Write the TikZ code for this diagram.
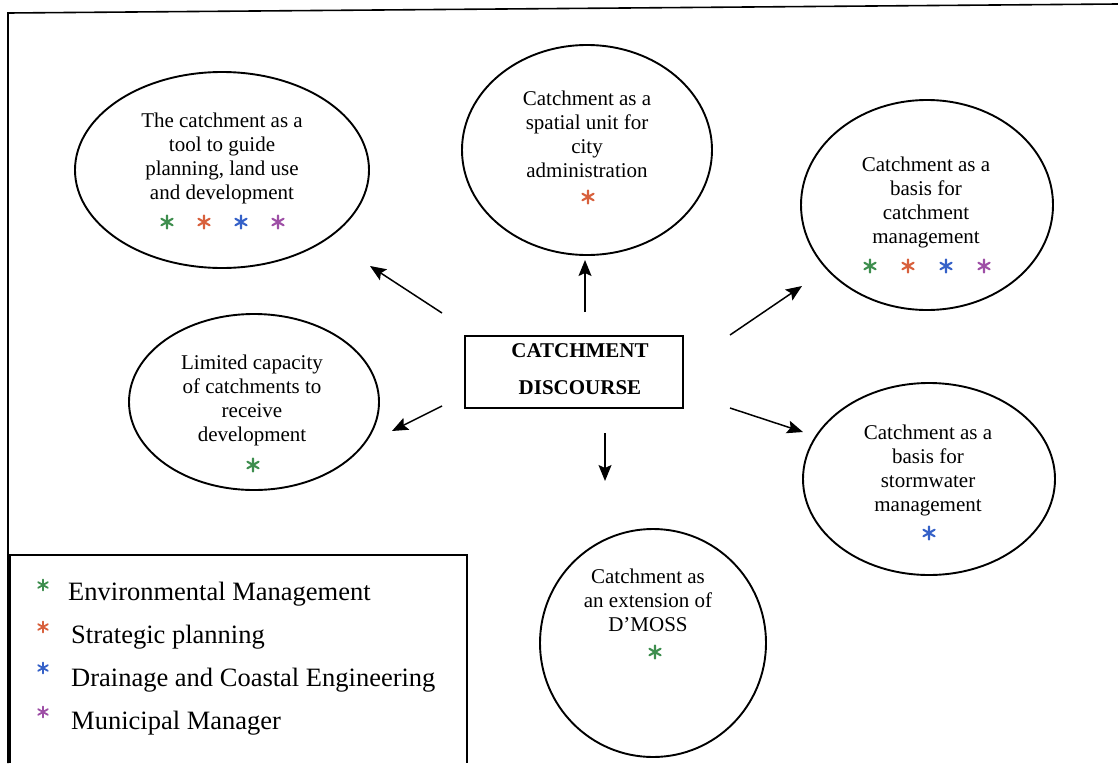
\documentclass[tikz,border=0pt]{standalone}
\usepackage{fontspec}
\setmainfont{Liberation Serif}
\usetikzlibrary{arrows.meta,shapes.geometric}

\definecolor{envgreen}{HTML}{3E8E4E}
\definecolor{stratred}{HTML}{D8603C}
\definecolor{drainblue}{HTML}{3561C8}
\definecolor{munipurple}{HTML}{9E4FA6}

\tikzset{
  bubble/.style={draw, ellipse, line width=1.9pt, inner sep=0pt, outer sep=0pt},
  bubbletext/.style={align=center, inner sep=0pt, font=\fontsize{21}{24}\selectfont},
  hub/.style={draw, line width=1.4pt, inner sep=0pt, minimum width=218pt, minimum height=72pt},
  arr/.style={line width=1.5pt, -{Stealth[length=16pt,width=13pt,inset=3pt]}},
  legendtext/.style={anchor=west, inner sep=0pt, font=\fontsize{26.5}{30}\selectfont},
  ast/.pic={\draw[line width=2.1pt, line cap=round]
    (0,-6.5) -- (0,6.5) (-5.6,-3.3) -- (5.6,3.3) (-5.6,3.3) -- (5.6,-3.3);},
  smallast/.pic={\draw[line width=1.8pt, line cap=round]
    (0,-5.5) -- (0,5.5) (-4.8,-2.8) -- (4.8,2.8) (-4.8,2.8) -- (4.8,-2.8);}
}

\begin{document}
\begin{tikzpicture}[x=1pt,y=-1pt]
\useasboundingbox (0,0) rectangle (1118,763);
\fill[white] (0,0) rectangle (1118,763);

% outer frame
\draw[line width=1.6pt] (8,763) -- (8,13) -- (1118,4);

% legend box
\draw[line width=1.4pt] (10,763) -- (10,555) -- (467,555) -- (467,763);

% central box
\node[hub] (hub) at (574,372) {};
\node[inner sep=0pt, align=center, font=\fontsize{21}{37}\selectfont\bfseries] (hubtext) at (580,369) {CATCHMENT\\DISCOURSE};

% ellipses
\node[bubble, minimum width=294pt, minimum height=196pt] (e1) at (222,170) {};
\node[bubble, minimum width=250pt, minimum height=210pt] (e2) at (587,150) {};
\node[bubble, minimum width=252pt, minimum height=210pt] (e3) at (927,205) {};
\node[bubble, minimum width=250pt, minimum height=176pt] (e4) at (254,402) {};
\node[bubble, minimum width=252pt, minimum height=192pt] (e5) at (929,479) {};
\node[bubble, minimum width=226pt, minimum height=228pt] (e6) at (653,643) {};

% ellipse texts
\node[bubbletext] (t1) at (222,158) {The catchment as a\\tool to guide\\planning, land use\\and development};
\node[bubbletext] (t2) at (587,134) {Catchment as a\\spatial unit for\\city\\administration};
\node[bubbletext] (t3) at (926,202) {Catchment as a\\basis for\\catchment\\management};
\node[bubbletext] (t4) at (252,400) {Limited capacity\\of catchments to\\receive\\development};
\node[bubbletext] (t5) at (928,470) {Catchment as a\\basis for\\stormwater\\management};
\node[bubbletext] (t6) at (648,600) {Catchment as\\an extension of\\D'MOSS};

% department markers in the ellipses
\pic[envgreen] at (167,222) {ast};
\pic[stratred] at (204,222) {ast};
\pic[drainblue] at (241,222) {ast};
\pic[munipurple] at (278,222) {ast};
\pic[stratred] at (588,197) {ast};
\pic[envgreen] at (870,266) {ast};
\pic[stratred] at (908,266) {ast};
\pic[drainblue] at (946,266) {ast};
\pic[munipurple] at (984,266) {ast};
\pic[envgreen] at (253,465) {ast};
\pic[drainblue] at (929,533) {ast};
\pic[envgreen] at (655,652) {ast};

% arrows from the hub
\coordinate (s1) at (442,313); \coordinate (d1) at (370,266);
\coordinate (s2) at (585,312); \coordinate (d2) at (585,260);
\coordinate (s3) at (730,335); \coordinate (d3) at (802,286);
\coordinate (s4) at (442,406); \coordinate (d4) at (392,431);
\coordinate (s5) at (730,408); \coordinate (d5) at (803,432);
\coordinate (s6) at (605,433); \coordinate (d6) at (605,481);
\draw[arr] (s1) -- (d1);
\draw[arr] (s2) -- (d2);
\draw[arr] (s3) -- (d3);
\draw[arr] (s4) -- (d4);
\draw[arr] (s5) -- (d5);
\draw[arr] (s6) -- (d6);

% legend
\pic[envgreen] at (43,585) {smallast};
\pic[stratred] at (43,627) {smallast};
\pic[drainblue] at (43,668) {smallast};
\pic[munipurple] at (43,712) {smallast};
\node[legendtext] (l1) at (68,594) {Environmental Management};
\node[legendtext] (l2) at (71,637) {Strategic planning};
\node[legendtext] (l3) at (71,680) {Drainage and Coastal Engineering};
\node[legendtext] (l4) at (71,723) {Municipal Manager};
\end{tikzpicture}
\end{document}
